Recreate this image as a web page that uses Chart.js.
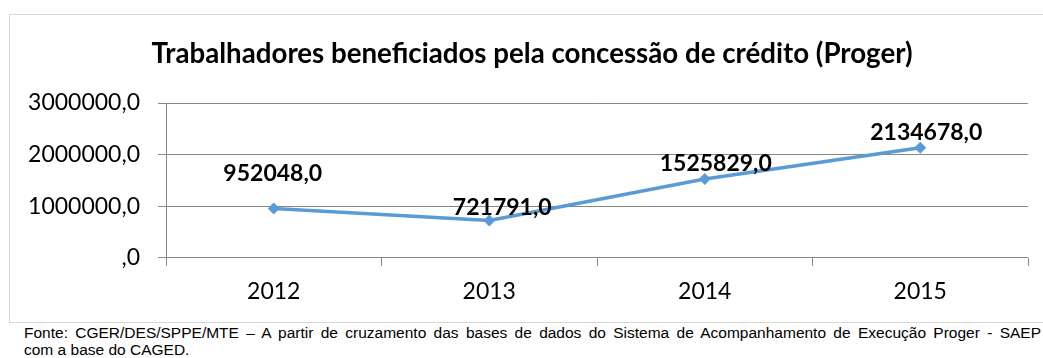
<!DOCTYPE html>
<html lang="pt-BR">
<head>
<meta charset="utf-8">
<title>Proger</title>
<script src="https://cdn.jsdelivr.net/npm/chart.js@4.4.1/dist/chart.umd.min.js"></script>
<style>
  html, body { margin: 0; padding: 0; background: #fff; width: 1043px; height: 358px; overflow: hidden; }
  .chart-box {
    position: absolute; left: 9px; top: 14px;
    width: 1046px; height: 309px;
    border: 1px solid #d9d9d9; box-sizing: border-box;
  }
  .chart-box canvas { display: block; }
  .fonte {
    position: absolute; left: 24px; top: 325px; width: 1017px;
    font: 15.5px "Liberation Sans", Arial, sans-serif; color: #000; line-height: 16.5px;
  }
  .fonte .l1 { text-align: justify; text-align-last: justify; white-space: nowrap; }
</style>
</head>
<body>
<div class="chart-box"><canvas id="myChart" width="1044" height="307"></canvas></div>
<div class="fonte">
  <div class="l1">Fonte: CGER/DES/SPPE/MTE – A partir de cruzamento das bases de dados do Sistema de Acompanhamento de Execução Proger - SAEP</div>
  <div>com a base do CAGED.</div>
</div>
<script>
// Dados
const anos = ["2012", "2013", "2014", "2015"];
const trabalhadores = [952048, 721791, 1525829, 2134678];
const yTicks = [0, 1000000, 2000000, 3000000];

const azul = "#5b9bd5";
const cinza = "#868686";

// formato "#,0" do Excel: 0 vira ",0"
function fmt(v) {
  return (v === 0 ? "" : String(v)) + ",0";
}

// rótulos de dados em negrito acima dos pontos
const rotulos = {
  id: "rotulos",
  afterDatasetsDraw(chart) {
    const desloc = [[-1, -35], [13, -13], [11, -15], [6, -15]];
    const c = chart.ctx;
    const meta = chart.getDatasetMeta(0);
    c.save();
    c.font = "bold 23px Lato";
    c.fillStyle = "#000";
    c.textAlign = "center";
    c.textBaseline = "middle";
    meta.data.forEach((pt, i) => {
      c.fillText(fmt(trabalhadores[i]), pt.x + desloc[i][0], pt.y + desloc[i][1]);
    });
    c.restore();
  }
};

// centra o título na largura toda do canvas, não só na área com padding
const tituloCentro = {
  id: "tituloCentro",
  afterLayout(chart) {
    const t = chart.titleBlock;
    if (t) {
      t.left = 0;
      t.right = chart.width;
    }
  }
};

const ctx = document.getElementById('myChart');

new Chart(ctx, {
  type: "line",
  data: {
    labels: anos,
    datasets: [{
      data: trabalhadores,
      borderColor: azul,
      backgroundColor: azul,
      borderWidth: 3.5,
      pointStyle: "rectRot",
      pointRadius: 6,
      pointBorderWidth: 0,
      tension: 0
    }]
  },
  options: {
    responsive: false,
    animation: false,
    layout: { padding: { left: 0, right: 26, top: 0, bottom: 0 } },
    plugins: {
      legend: { display: false },
      tooltip: { enabled: false },
      title: {
        display: true,
        text: "Trabalhadores beneficiados pela concessão de crédito (Proger)",
        color: "#000",
        font: { family: "Lato", size: 27.7, weight: "bold", lineHeight: 1.2 },
        padding: { top: 22.4, bottom: 32.4 }
      }
    },
    scales: {
      x: {
        offset: true,
        grid: { offset: true, drawOnChartArea: false, tickLength: 8, color: cinza },
        border: { display: false },
        ticks: { color: "#000", padding: 12.5, font: { family: "Lato", size: 23 } },
        afterFit(scale) { scale.height = 64.3; }
      },
      y: {
        min: 0,
        max: 3000000,
        afterBuildTicks(scale) { scale.ticks = yTicks.map(v => ({ value: v })); },
        grid: { color: cinza, tickLength: 8 },
        border: { display: true, color: cinza },
        ticks: {
          color: "#000",
          padding: 18,
          font: { family: "Lato", size: 23 },
          callback: v => fmt(v)
        },
        afterFit(scale) { scale.width = 156; }
      }
    }
  },
  plugins: [rotulos, tituloCentro]
});
</script>
</body>
</html>
